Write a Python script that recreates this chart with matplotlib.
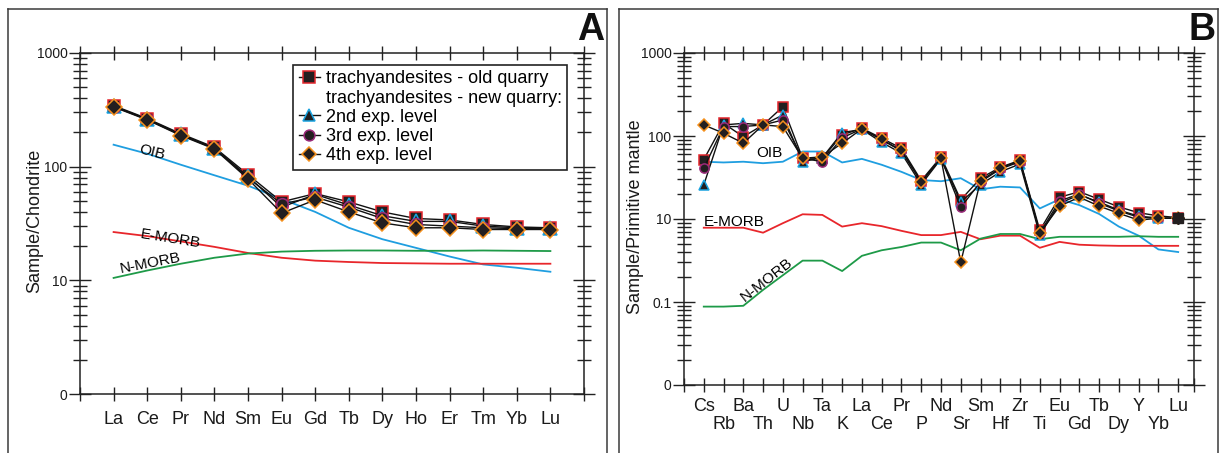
import matplotlib
matplotlib.use("Agg")
import matplotlib.pyplot as plt
from matplotlib.lines import Line2D
import numpy as np

plt.rcParams['font.family'] = ['Liberation Sans', 'DejaVu Sans']

# ---- data: panel A (chondrite normalised REE) ----
ree = ['La', 'Ce', 'Pr', 'Nd', 'Sm', 'Eu', 'Gd', 'Tb', 'Dy', 'Ho', 'Er', 'Tm', 'Yb', 'Lu']
a_old = [345, 265, 195, 148, 85, 49, 58, 49, 40, 35, 34, 31, 29.5, 29]
a_2nd = [340, 262, 192, 145, 82, 44, 57, 46, 37, 33, 33, 30, 29, 29]
a_3rd = [338, 260, 190, 145, 80, 47, 54, 44, 35, 31, 30, 29, 28.5, 28.5]
a_4th = [335, 258, 188, 143, 78, 39, 51, 40, 32, 29, 29, 28, 28, 28]
a_oib = [156, 130, 104, 84, 68, 52, 40, 29, 23, 19.3, 16.2, 13.8, 12.9, 11.9]
a_emorb = [26.6, 24.5, 22, 19.7, 17.4, 15.8, 14.9, 14.5, 14.2, 14.1, 14, 14, 14, 14]
a_nmorb = [10.5, 12.2, 14, 15.8, 17.2, 17.9, 18.2, 18.3, 18.3, 18.2, 18.2, 18.3, 18.2, 18.1]

# ---- data: panel B (primitive mantle normalised) ----
elem = ['Cs', 'Rb', 'Ba', 'Th', 'U', 'Nb', 'Ta', 'K', 'La', 'Ce', 'Pr', 'P', 'Nd',
        'Sr', 'Sm', 'Hf', 'Zr', 'Ti', 'Eu', 'Gd', 'Tb', 'Dy', 'Y', 'Yb', 'Lu']
b_old = [52, 142, 98, 136, 225, 54, 54, 103, 124, 94, 71, 29, 56, 17, 31, 42, 51, 7.3, 18.3, 21.3, 17.3, 14, 11.9, 10.9, 10.4]
b_2nd = [25.7, 136, 142, 136, 179, 49, 55, 110, 120, 84, 62, 26, 53, 16, 26, 37, 46, 6.4, 15.5, 19.5, 16, 12.8, 10.8, 10.3, 10.2]
b_3rd = [40.7, 130, 130, 136, 156, 54, 49, 95, 122, 90, 66, 28, 54, 13.8, 28, 40, 49, 6.8, 16.5, 20, 15.5, 12.5, 10.5, 10.2, 10.2]
b_4th = [136, 108, 82, 136, 130, 54, 56, 82, 122, 91, 67, 28, 54, 3.0, 29, 41, 50.4, 6.8, 14.3, 18.3, 14.3, 11.7, 9.7, 10.2, 10.2]
b_oib = [49, 48, 49, 47, 49, 65, 65, 48, 53, 45, 37, 29.5, 28.5, 31, 22.8, 24.5, 24, 13.4, 17.3, 14.7, 11.5, 8.1, 6.3, 4.3, 4.0]
b_emorb = [7.85, 7.85, 7.85, 6.84, 8.9, 11.4, 11.2, 8.1, 8.9, 8.2, 7.2, 6.4, 6.4, 7.0, 5.7, 6.3, 6.3, 4.5, 5.3, 4.9, 4.8, 4.75, 4.75, 4.75, 4.75]
b_nmorb = [0.88, 0.88, 0.9, 1.4, 2.1, 3.15, 3.15, 2.36, 3.6, 4.2, 4.6, 5.2, 5.2, 4.2, 5.8, 6.6, 6.6, 5.7, 6.1, 6.1, 6.1, 6.1, 6.2, 6.1, 6.1]

legend_labels = ['trachyandesites - old quarry', 'trachyandesites - new quarry:',
                 '2nd exp. level', '3rd exp. level', '4th exp. level']

colors = {
    "face": "#231f20",
    "old": "#e3262c",
    "2nd": "#1aa3e0",
    "3rd": "#9a2a7a",
    "4th": "#f4901e",
    "oib": "#1f9ee0",
    "emorb": "#e8262b",
    "nmorb": "#1e9a48",
    "axis": "#222222",
}

W, H = 1221, 453
fig = plt.figure(figsize=(W / 100, H / 100), dpi=100)


def px_axes(l, t, r, b):
    return fig.add_axes([l / W, 1 - b / H, (r - l) / W, (b - t) / H])


def style_axes(ax, xmin, xmax, ylims, xpad):
    ax.set_yscale('log')
    ax.set_ylim(*ylims)
    ax.set_xlim(xmin, xmax)
    for s in ax.spines.values():
        s.set_color(colors["axis"])
        s.set_linewidth(1.1)
    ax.tick_params(axis='x', which='both', direction='inout', length=9.5, width=1.0,
                   top=True, bottom=True, colors=colors["axis"], labelsize=13,
                   pad=xpad, labelcolor='#1a1a1a')
    ax.tick_params(axis='y', which='major', direction='inout', length=16, width=1.0,
                   left=True, right=True, colors=colors["axis"], labelsize=10,
                   pad=1, labelcolor='#1a1a1a')
    ax.tick_params(axis='y', which='minor', direction='inout', length=10.5, width=1.0,
                   left=True, right=True, colors=colors["axis"])


def draw_samples(ax, x, series, ms_scale):
    specs = [
        (series[0], 's', colors["old"], 8.2),
        (series[1], '^', colors["2nd"], 9.0),
        (series[2], 'o', colors["3rd"], 7.8),
        (series[3], 'D', colors["4th"], 7.2),
    ]
    for vals, mk, ec, ms in specs:
        ax.plot(x, vals, color='#111111', lw=1.0, marker=mk, ms=ms * ms_scale,
                mfc=colors["face"], mec=ec, mew=1.1, zorder=4)


def draw_refs(ax, x, oib, emorb, nmorb):
    ax.plot(x, oib, color=colors["oib"], lw=1.3, zorder=3)
    ax.plot(x, emorb, color=colors["emorb"], lw=1.3, zorder=3)
    ax.plot(x, nmorb, color=colors["nmorb"], lw=1.3, zorder=3)


# ---------------- panel A ----------------
axA = px_axes(80, 53, 584, 394)
xa = np.arange(len(ree))
style_axes(axA, -1, len(ree), (1, 1000), 7.5)
axA.set_xticks([-1] + list(xa) + [len(ree)])
axA.set_xticklabels([''] + ree + [''])
axA.set_yticks([1, 10, 100, 1000])
axA.set_yticklabels(['0', '10', '100', '1000'])
axA.set_ylabel('Sample/Chondrite', fontsize=13, color='#1a1a1a')
axA.yaxis.set_label_coords(-0.074, 0.507)
draw_refs(axA, xa, a_oib, a_emorb, a_nmorb)
draw_samples(axA, xa, [a_old, a_2nd, a_3rd, a_4th], 1.08)

axA.text(1.15, 134, 'OIB', fontsize=11, rotation=-14, ha='center', va='center')
axA.text(1.7, 23.0, 'E-MORB', fontsize=11, rotation=-9, ha='center', va='center')
axA.text(1.1, 14.2, 'N-MORB', fontsize=11, rotation=11, ha='center', va='center')

handles = [
    Line2D([], [], color='#111111', lw=1.0, marker='s', ms=8.2, mfc=colors["face"], mec=colors["old"], mew=1.1),
    Line2D([], [], linestyle='none', marker=None),
    Line2D([], [], color='#111111', lw=1.0, marker='^', ms=9.0, mfc=colors["face"], mec=colors["2nd"], mew=1.1),
    Line2D([], [], color='#111111', lw=1.0, marker='o', ms=7.8, mfc=colors["face"], mec=colors["3rd"], mew=1.1),
    Line2D([], [], color='#111111', lw=1.0, marker='D', ms=7.2, mfc=colors["face"], mec=colors["4th"], mew=1.1),
]
leg = axA.legend(handles, legend_labels, loc='upper right',
                 bbox_to_anchor=((567 - 80) / 504, (394 - 65) / 341),
                 borderaxespad=0, fontsize=13, frameon=True, fancybox=False,
                 edgecolor='#222222', framealpha=1, borderpad=0.3,
                 handlelength=1.2, handletextpad=0.3, labelspacing=0.12)
leg.get_frame().set_linewidth(1.2)

# ---------------- panel B ----------------
axB = px_axes(684, 53, 1194, 385)
xb = np.arange(len(elem))
xmax_b = len(elem) - 0.2
style_axes(axB, -1, xmax_b, (0.1, 1000), 4.5)
# two staggered rows of element names: upper row on major ticks, lower row on minor ticks
axB.set_xticks([-1] + list(xb[0::2]) + [xmax_b])
axB.set_xticklabels([''] + elem[0::2] + [''])
axB.set_xticks(xb[1::2], minor=True)
axB.set_xticklabels(elem[1::2], minor=True)
axB.tick_params(axis='x', which='minor', pad=17.5)
axB.set_yticks([0.1, 1, 10, 100, 1000])
axB.set_yticklabels(['0', '0.1', '10', '100', '1000'])
axB.set_ylabel('Sample/Primitive mantle', fontsize=13, color='#1a1a1a')
axB.yaxis.set_label_coords(-0.078, 0.506)
draw_refs(axB, xb, b_oib, b_emorb, b_nmorb)
draw_samples(axB, xb, [b_old, b_2nd, b_3rd, b_4th], 0.85)
# Lu end point drawn solid black in the original
axB.plot(xb[-1], b_old[-1], marker='s', ms=7.5, mfc=colors["face"], mec=colors["face"], zorder=5)
axB.plot(xb[-1], b_4th[-1], marker='D', ms=6.5, mfc=colors["face"], mec=colors["face"], zorder=5)

axB.text(3.3, 62, 'OIB', fontsize=11, ha='center', va='center')
axB.text(0.0, 9.3, 'E-MORB', fontsize=11, ha='left', va='center')
axB.text(3.2, 1.85, 'N-MORB', fontsize=11, rotation=38, ha='center', va='center')

# ---------------- frames and panel letters ----------------
lc = '#3a3a3a'
for (l, r) in [(8, 607), (619, 1218)]:
    fig.add_artist(Line2D([l / W, l / W], [0, 1 - 9 / H], color=lc, lw=1.1))
    fig.add_artist(Line2D([r / W, r / W], [0, 1 - 9 / H], color=lc, lw=1.1))
    fig.add_artist(Line2D([l / W, r / W], [1 - 9 / H, 1 - 9 / H], color=lc, lw=1.1))

fig.text(604 / W, 1 - 12 / H, 'A', fontsize=27, fontweight='bold', ha='right', va='top', color='#111111')
fig.text(1216 / W, 1 - 12 / H, 'B', fontsize=27, fontweight='bold', ha='right', va='top', color='#111111')

fig.savefig('out.png', dpi=100)
